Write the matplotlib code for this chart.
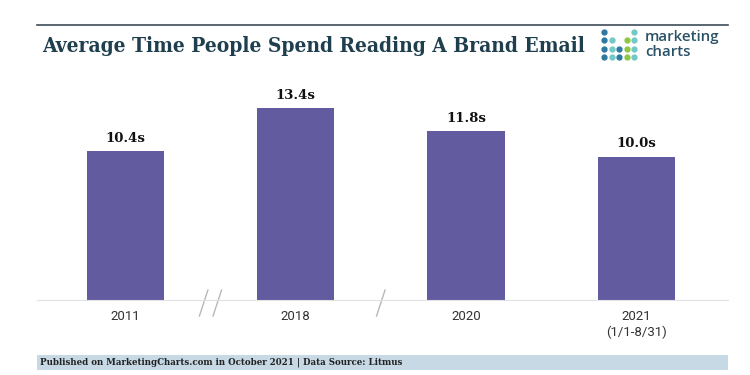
import matplotlib
matplotlib.use("Agg")
import matplotlib.pyplot as plt
from matplotlib.lines import Line2D
from matplotlib.patches import Rectangle
import matplotlib.transforms as mtransforms

# data
years = ["2011", "2018", "2020", "2021\n(1/1-8/31)"]
seconds = [10.4, 13.4, 11.8, 10.0]
value_labels = ["10.4s", "13.4s", "11.8s", "10.0s"]
# breaks drawn between these category pairs (number of slashes)
breaks = [(0, 1, 2), (1, 2, 1)]

title = "Average Time People Spend Reading A Brand Email"
footer = "Published on MarketingCharts.com in October 2021 | Data Source: Litmus"

bar_color = "#625b9f"
title_color = "#1f3f4f"

fig = plt.figure(figsize=(7.5, 3.75), dpi=100)
ax = fig.add_axes([0.049, 0.2, 0.922, 0.573])

xs = list(range(len(years)))
ax.bar(xs, seconds, width=0.453, color=bar_color, zorder=2)
for x, v, lab in zip(xs, seconds, value_labels):
    ax.text(x, v + 0.45, lab, ha="center", va="bottom", fontsize=9.5,
            fontweight="bold", family="DejaVu Serif", color="#111111")

ax.set_xlim(-0.52, 3.54)
ax.set_ylim(0, 15)
ax.set_xticks(xs)
ax.set_xticklabels(years, fontsize=9.5, family="Roboto", color="#333333",
                   linespacing=1.3)
ax.tick_params(axis="x", length=0, pad=7)
ax.set_yticks([])
for s in ["top", "left", "right"]:
    ax.spines[s].set_visible(False)
ax.spines["bottom"].set_color("#e2e2e2")
ax.spines["bottom"].set_linewidth(0.8)

# axis break slashes
trans = mtransforms.blended_transform_factory(ax.transData, fig.transFigure)
for a, b, n in breaks:
    mid = (a + b) / 2.0
    offs = [-0.04, 0.04] if n == 2 else [0.0]
    for o in offs:
        ax.add_line(Line2D([mid + o - 0.025, mid + o + 0.025],
                           [1 - 316 / 375, 1 - 290 / 375], transform=trans,
                           color="#b8b8b8", lw=1.0, clip_on=False))

# header
fig.add_artist(Line2D([0.049, 0.971], [1 - 25 / 375, 1 - 25 / 375],
                      color="#3d4c57", lw=1.2))
fig.text(0.056, 1 - 46 / 375, title, fontsize=15, fontweight="bold",
         family="DejaVu Serif", fontstretch="condensed", color=title_color,
         va="center", ha="left")

# logo
dot_cols = ["#2f78a0", "#6fcac8", "#2f78a0", "#8dc641", "#6fcac8"]
pattern = ["1...1", "11.11", "11111", "11111"]
for r, row in enumerate(pattern):
    for c, ch in enumerate(row):
        if ch == "1":
            fig.add_artist(Line2D([(604 + c * 7.6) / 750], [1 - (32 + r * 8.3) / 375],
                                  marker="o", ms=3.5, color=dot_cols[c],
                                  lw=0))
fig.text(645 / 750, 1 - 37 / 375, "marketing", fontsize=10.8,
         family="Open Sans", fontweight="semibold", color="#2a5266",
         va="center", ha="left")
fig.text(645 / 750, 1 - 52 / 375, "charts", fontsize=10.8,
         family="Open Sans", fontweight="semibold", color="#2a5266",
         va="center", ha="left")

# footer band
fig.add_artist(Rectangle((0.049, 1 - 370 / 375), 0.922, 15 / 375,
                         color="#c6d9e4", lw=0))
fig.text(0.053, 1 - 362.5 / 375, footer, fontsize=6.9, fontweight="bold",
         family="DejaVu Serif", fontstretch="condensed", color="#222222",
         va="center", ha="left")

fig.savefig("out.png", dpi=100)
